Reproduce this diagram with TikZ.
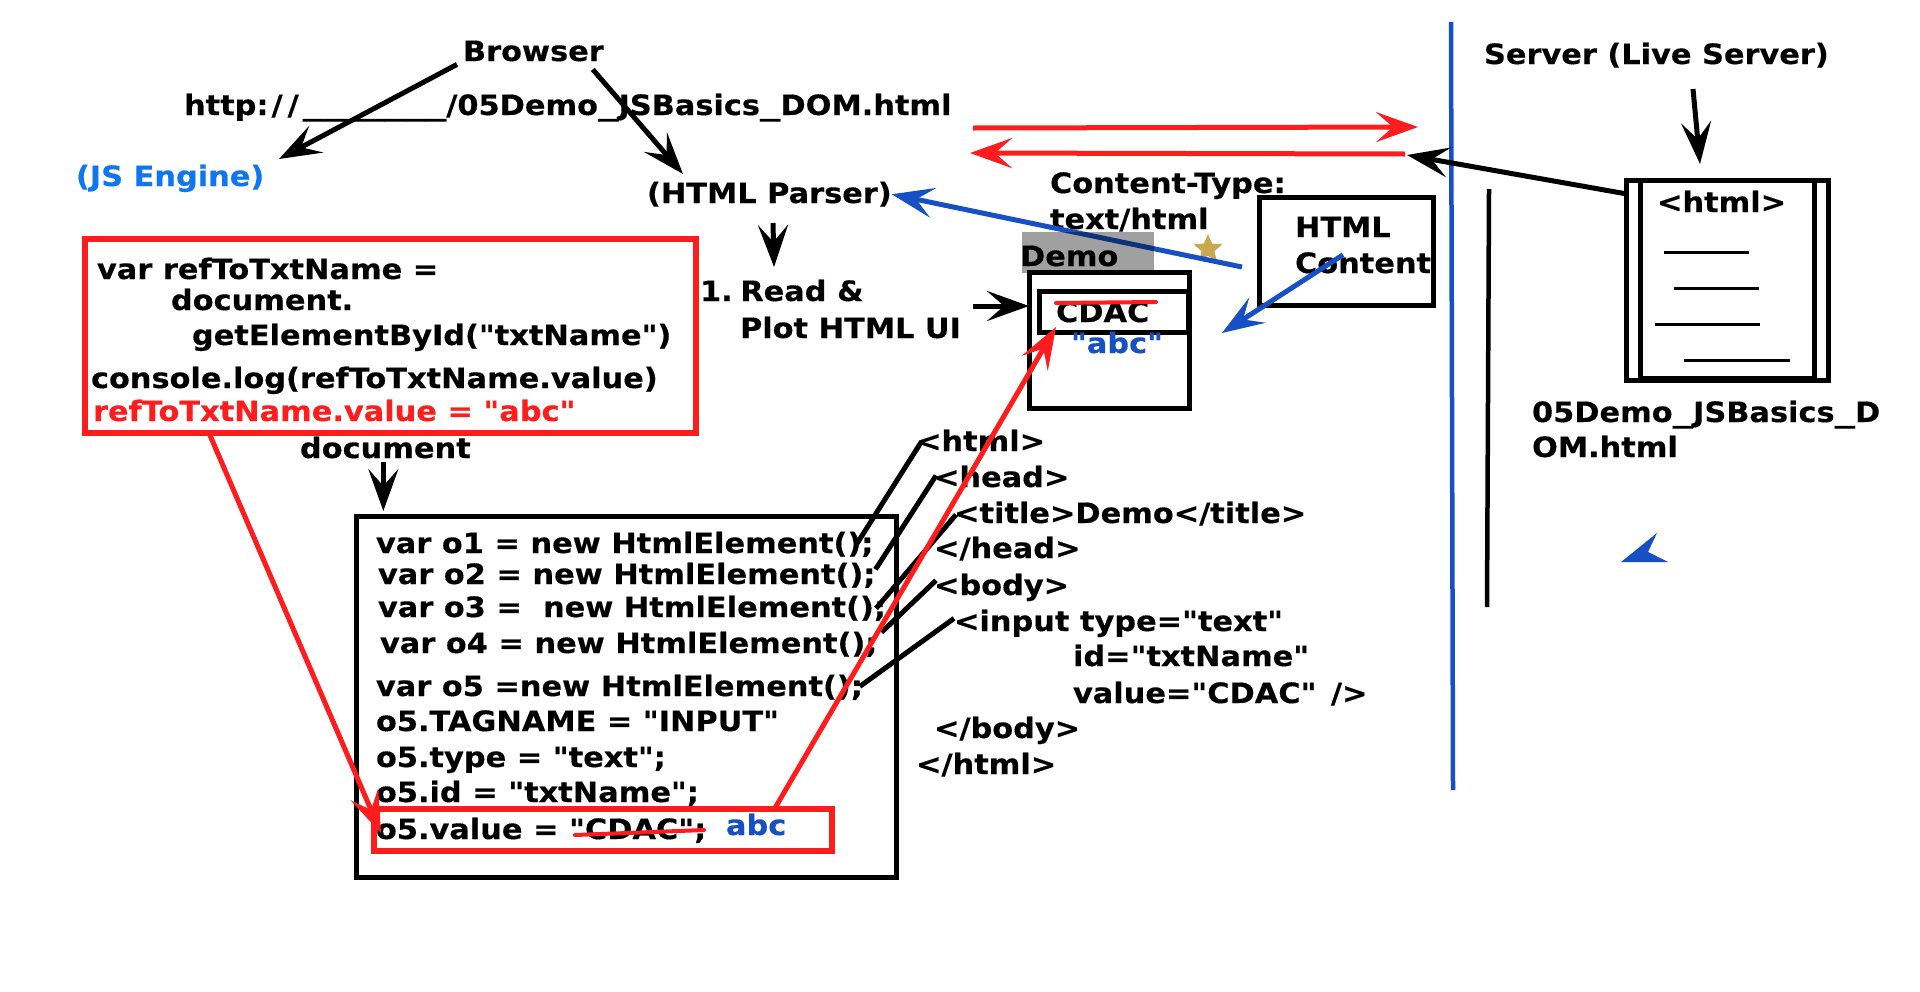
\documentclass[tikz,border=0pt]{standalone}
\usepackage{fontspec}
\setmainfont{DejaVu Sans Bold}[FakeStretch=1.085, FakeBold=0.4, Ligatures=TeXOff]
\usetikzlibrary{positioning, arrows.meta, calc, shapes.geometric}

\definecolor{domred}{HTML}{FF1C1C}
\definecolor{domblue}{HTML}{1650C4}
\definecolor{enginecol}{HTML}{0F75F0}
\definecolor{starcol}{HTML}{C9A950}

% wide underscore, the font's own is narrower than the picture's
\newcommand{\wideus}{\scalebox{1.35}[1]{\_}}

\begin{document}
\begin{tikzpicture}[
    x=0.5pt, y=-0.5pt,
    every node/.style={inner sep=0pt, outer sep=0pt},
    txt/.style={anchor=base west, align=left, font=\fontsize{14}{18}\selectfont},
    nextline/.style={below=#1, anchor=base west},
    frame/.style={draw, line width=2.5pt, anchor=north west},
    redframe/.style={draw=domred, line width=2.75pt, anchor=north west},
    >={Stealth[length=21pt,width=15pt,inset=8.5pt]},
    blackarrow/.style={->, line width=2.5pt},
    redarrow/.style={->, line width=2.5pt, draw=domred, fill=domred},
    bluearrow/.style={->, line width=2.5pt, draw=domblue, fill=domblue},
    tagline/.style={line width=2.5pt},
    strike/.style={line width=2pt, draw=domred, line cap=round},
    rule/.style={line width=1.5pt}
]
\useasboundingbox (0,0) rectangle (1920,991);

% --- top labels ---
\node[txt] (browser) at (463,61) {Browser};
\node[txt] (url) at (184,115) {http:\kern1.5pt/\kern2.5pt/\kern2pt\wideus\wideus\wideus\wideus\wideus\wideus\wideus/05Demo\wideus JSBasics\wideus DOM.html};
\node[txt, text=enginecol] (engine) at (76,186) {(JS Engine)};
\node[txt] (parser) at (647,203) {(HTML Parser)};
\node[txt] (plot) at (700,301) {1.\kern-1.5pt\ Read \&};
\node[txt, nextline=18.5pt of plot.base west, xshift=20pt] (plotb) {Plot HTML UI};
\node[txt] (ctype) at (1050,193) {Content-Type:};
\node[txt, nextline=18pt of ctype.base west] (ctypeb) {text/html};

% --- red script box ---
\node[redframe, minimum width=305.5pt, minimum height=97pt] (scriptbox) at (85,239) {};
\node[txt] (refa) at (97,279) {var refToTxtName =};
\node[txt, nextline=15.5pt of refa.base west, xshift=37pt] (refb) {document.};
\node[txt, nextline=17.5pt of refb.base west, xshift=10.5pt] (refc) {getElementById("txtName")};
\node[txt] (refd) at (91,388) {console.log(refToTxtName.value)};
\node[txt, text=domred, nextline=16.5pt of refd.base west, xshift=1pt] (refe) {refToTxtName.value = "abc"};
\node[txt] (docword) at (300,458) {document};

% --- object box ---
\node[frame, minimum width=270pt, minimum height=180.5pt] (objbox) at (356,516) {};
\node[txt] (oa) at (376,553) {var o1 = new HtmlElement();};
\node[txt, nextline=15.5pt of oa.base west, xshift=1pt] (ob) {var o2 = new HtmlElement();};
\node[txt, nextline=16.5pt of ob.base west] (oc) {var o3 =\ \ new HtmlElement();};
\node[txt, nextline=18pt of oc.base west, xshift=1pt] (od) {var o4 = new HtmlElement();};
\node[txt, nextline=21.5pt of od.base west, xshift=-2pt] (oe) {var o5 =new HtmlElement();};
\node[txt, nextline=17.5pt of oe.base west] (of) {o5.TAGNAME = "INPUT"};
\node[txt, nextline=18pt of of.base west] (og) {o5.type = "text";};
\node[txt, nextline=17.5pt of og.base west] (oh) {o5.id = "txtName";};
\node[txt, nextline=18.5pt of oh.base west] (oi) {o5.value = "CDAC";};
\node[txt, text=domblue] (abcval) at (726,835) {abc};
\node[redframe, minimum width=229pt, minimum height=21pt] (valbox) at (374,809) {};

% --- html source ---
\node[txt] (tha) at (916,451) {<html>};
\node[txt, nextline=18pt of tha.base west, xshift=9pt] (thb) {<head>};
\node[txt, nextline=18pt of thb.base west, xshift=10pt] (thc) {<title>Demo</title>};
\node[txt, nextline=17.5pt of thc.base west, xshift=-10pt] (thd) {</head>};
\node[txt, nextline=18.5pt of thd.base west] (the) {<body>};
\node[txt, nextline=18pt of the.base west, xshift=10pt] (thf) {<input type="text"};
\node[txt, nextline=17.5pt of thf.base west, xshift=59.5pt] (thg) {id="txtName"};
\node[txt, nextline=18.5pt of thg.base west] (thh) {value="CDAC"\kern2pt\ />};
\node[txt, nextline=17.5pt of thh.base west, xshift=-69.5pt] (thi) {</body>};
\node[txt, nextline=18pt of thi.base west, xshift=-9pt] (thj) {</html>};

% --- page preview ---
\node[txt] (demo) at (1020,266) {Demo};
\node[frame, minimum width=80pt, minimum height=68pt] (winbox) at (1029,272) {};
\node[frame, minimum width=74.5pt, minimum height=20.5pt] (inputbox) at (1039,291) {};
\node[txt] (cdac) at (1056,322) {CDAC};
\node[txt, text=domblue] (abcshow) at (1071,353) {"abc"};
\node[star, star points=5, star point ratio=2.2, fill=starcol, minimum size=15pt] (mark) at (1208,249) {};

% --- content box ---
\node[frame, minimum width=87pt, minimum height=54pt] (contentbox) at (1259,197) {};
\node[txt] (conta) at (1295,237) {HTML};
\node[txt, nextline=18pt of conta.base west] (contb) {Content};

% --- server side ---
\coordinate (divtop) at (1451,22);
\coordinate (divbot) at (1453,790);
\coordinate (bartop) at (1489,189);
\coordinate (barbot) at (1487,607);
\draw[line width=2.25pt, domblue] (divtop) -- (divbot);
\draw[line width=2.25pt] (bartop) -- (barbot);
\node[txt] (server) at (1484,64) {Server (Live Server)};
\node[frame, minimum width=101pt, minimum height=100pt] (pageouter) at (1626,180) {};
\node[frame, minimum width=87pt, minimum height=99pt] (pageinner) at (1640,180) {};
\node[txt] (pagetag) at (1657,212) {<html>};
\node[txt] (fname) at (1532,422) {05Demo\wideus JSBasics\wideus D};
\node[txt, nextline=17.5pt of fname.base west] (fnameb) {OM.html};
\draw[rule] (1664,252) -- (1749,252);
\draw[rule] (1674,288) -- (1759,288);
\draw[rule] (1655,324) -- (1760,324);
\draw[rule] (1684,360) -- (1790,360);
\fill[domblue] (1621,562) -- (1657,533) -- (1648,552) -- (1668,562) -- cycle;

% --- connectors ---
\coordinate (reqa) at (973,128);
\coordinate (reqb) at (1418,127);
\coordinate (respa) at (1405,154);
\coordinate (respb) at (970,153);
\coordinate (doctip) at (1407,155);
\coordinate (contenttip) at (1222,333);
\coordinate (linestart) at (1242,267);
\coordinate (plotstart) at (973,306);
\coordinate (parserstart) at (773,223);
\coordinate (parsertip) at (774,267);
\coordinate (parserhit) at (683,174);
\coordinate (enginehit) at (279,159);
\coordinate (filetip) at (1700,164);
\coordinate (filefrom) at (1693,89);
\coordinate (strikea) at (575,835);
\coordinate (strikeb) at (704,830);
\coordinate (strikec) at (1056,303);
\coordinate (striked) at (1156,302);

\draw[blackarrow] ([shift={(-6,3)}]browser.south west) -- (enginehit);
\draw[blackarrow] ([shift={(-11,8)}]browser.south east) -- (parserhit);
\draw[blackarrow] (parserstart) -- (parsertip);
\draw[blackarrow] (plotstart) -- (plotstart -| winbox.west);
\draw[blackarrow] ([shift={(1,14)}]pageouter.north west) -- (doctip);
\draw[blackarrow] (filefrom) -- (filetip);
\draw[blackarrow] ([shift={(-2,4)}]docword.south) -- ([shift={(-2,-5)}]objbox.north -| docword.south);

\draw[tagline] ([shift={(-17,0)}]oa.east) -- ([shift={(5,2)}]tha.west);
\draw[tagline] ([shift={(0,-6)}]ob.east) -- ([shift={(2,-1)}]thb.west);
\draw[tagline] ([shift={(-10,0)}]oc.east) -- ([shift={(2,1)}]thc.west);
\draw[tagline] ([shift={(4,-12)}]od.east) -- ([shift={(2,-7)}]the.west);
\draw[tagline] ([shift={(-3,-1)}]oe.east) -- ([shift={(0,-5)}]thf.west);

\draw[redarrow] (reqa) -- (reqb);
\draw[redarrow] (respa) -- (respb);
\draw[redarrow] ([shift={(124,0)}]scriptbox.south west) -- ([shift={(7,24)}]valbox.north west);
\draw[redarrow] ([shift={(401,-1)}]valbox.north west) -- ([shift={(17,-5)}]inputbox.south west);
\draw[bluearrow] (linestart) -- (parser.east);
\draw[bluearrow] ([shift={(48,-8)}]contb.west) -- (contenttip);
\draw[strike] (strikea) -- (strikeb);
\draw[strike] (strikec) -- (striked);

% --- grey title bar over the preview ---
\node[fill=black, fill opacity=0.373, anchor=north west, minimum width=66pt, minimum height=20.5pt] (titlebar) at (1022,232) {};

\end{tikzpicture}
\end{document}
